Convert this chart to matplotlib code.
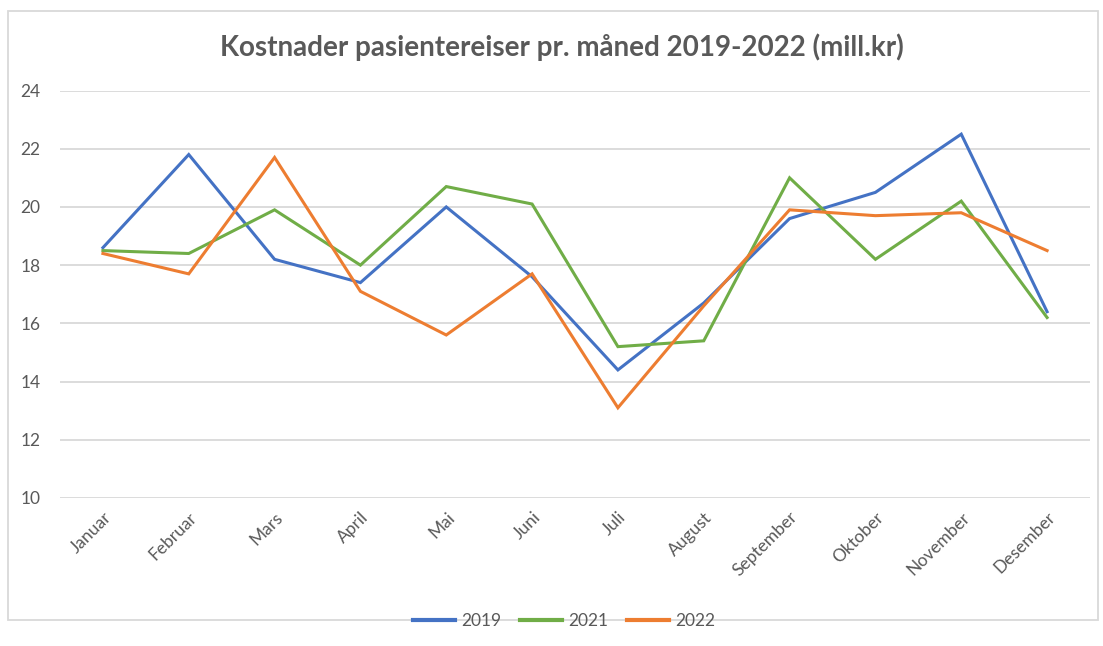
import matplotlib.pyplot as plt
from matplotlib.patches import Rectangle

# Data
months = ['Januar', 'Februar', 'Mars', 'April', 'Mai', 'Juni', 'Juli',
          'August', 'September', 'Oktober', 'November', 'Desember']
v2019 = [18.6, 21.8, 18.2, 17.4, 20.0, 17.6, 14.4, 16.7, 19.6, 20.5, 22.5, 16.4]
v2021 = [18.5, 18.4, 19.9, 18.0, 20.7, 20.1, 15.2, 15.4, 21.0, 18.2, 20.2, 16.2]
v2022 = [18.4, 17.7, 21.7, 17.1, 15.6, 17.7, 13.1, 16.6, 19.9, 19.7, 19.8, 18.5]
yticks = [10, 12, 14, 16, 18, 20, 22, 24]

plt.rcParams['font.family'] = ['Lato', 'DejaVu Sans']
grey = '#595959'

fig = plt.figure(figsize=(11.03, 6.46), dpi=100)
W, H = 1103, 646
ax = fig.add_axes([60 / W, 1 - 498 / H, 1030 / W, (498 - 90.5) / H])

x = range(len(months))
ax.plot(x, v2019, color='#4472C4', lw=2.2, label='2019', solid_joinstyle='miter')
ax.plot(x, v2021, color='#70AD47', lw=2.2, label='2021', solid_joinstyle='miter')
ax.plot(x, v2022, color='#ED7D31', lw=2.2, label='2022', solid_joinstyle='miter')

ax.set_xlim(-0.5, len(months) - 0.5)
ax.set_ylim(10, 24)
ax.set_yticks(yticks)
ax.set_xticks(list(x))
ax.set_xticklabels(months, rotation=45, ha='right', rotation_mode='anchor')
ax.tick_params(axis='both', length=0, labelsize=12.5, colors=grey)
ax.tick_params(axis='y', pad=14)
ax.tick_params(axis='x', pad=8)
ax.grid(axis='y', color='#D9D9D9', lw=1.3)
ax.set_axisbelow(True)
for s in ax.spines.values():
    s.set_visible(False)

fig.text(0.5 * (218 + 905) / W, 1 - 47 / H,
         'Kostnader pasientereiser pr. måned 2019-2022 (mill.kr)',
         ha='center', va='center', fontsize=20, fontweight='bold', color=grey)

leg = fig.legend(loc='center', bbox_to_anchor=(564 / W, 1 - 621 / H), ncol=3,
                 frameon=False, fontsize=12.5, handlelength=2.4, columnspacing=1.1,
                 handletextpad=0.35)
for t in leg.get_texts():
    t.set_color(grey)
for h in leg.get_lines():
    h.set_linewidth(3)

# chart area border
fig.patches.append(Rectangle((8 / W, 1 - 620 / H), 1090 / W, 609 / H,
                             transform=fig.transFigure, fill=False,
                             edgecolor='#D9D9D9', lw=1.3))

fig.savefig('out.png', dpi=100)
